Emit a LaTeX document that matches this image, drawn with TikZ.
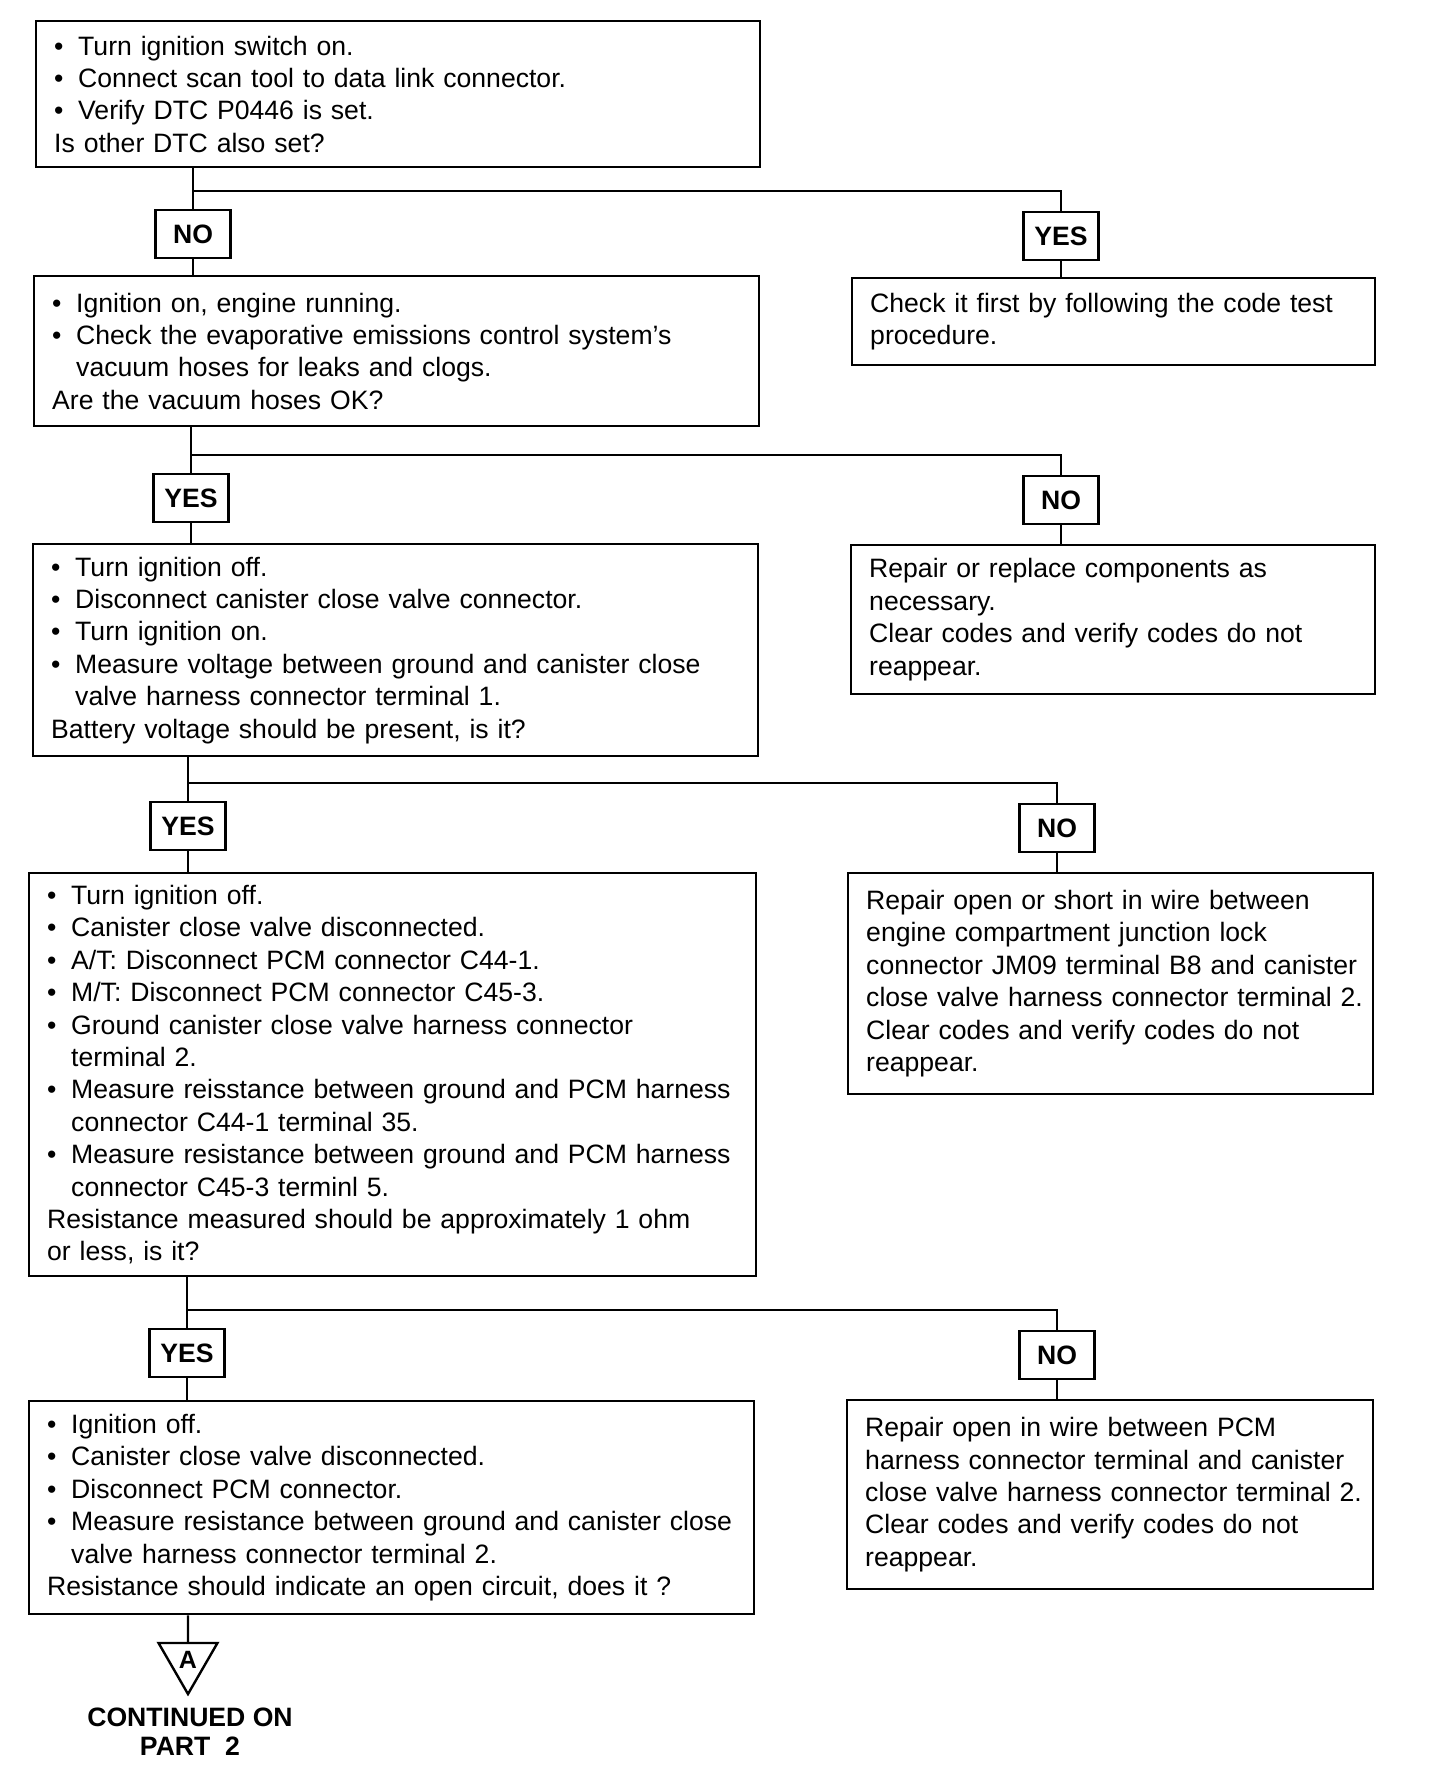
\documentclass[tikz,border=0pt]{standalone}
\usepackage{fontspec}
\setmainfont{Liberation Sans}
\usetikzlibrary{shapes.geometric, positioning}
\newcommand{\bodyfont}{\fontsize{26.6}{32.4}\selectfont}
\newcommand{\itm}{\makebox[24pt][l]{\textbullet}}
\newcommand{\cnt}{\hspace*{24pt}}
\newcommand{\fullline}[1]{\makebox[\linewidth][l]{#1}}
\tikzset{
  stepbox/.style={rectangle, draw=black, line width=2.4pt, anchor=north west, align=left, inner xsep=18pt, inner ysep=3pt, font=\bodyfont},
  answer/.style={rectangle, draw=black, line width=2.4pt, minimum width=75pt, minimum height=48pt, inner sep=0pt, font=\bodyfont\bfseries},
  marker/.style={regular polygon, regular polygon sides=3, shape border rotate=180, draw=black, line width=2.4pt, minimum size=68pt, inner sep=0pt, font=\fontsize{25}{26}\selectfont\bfseries},
  line/.style={line width=2.4pt}
}
\begin{document}
\begin{tikzpicture}[x=1pt, y=-1pt]
  \useasboundingbox (0,0) rectangle (1440,1774);

  % questions (left column)
  \node (q1) [stepbox, text width=688pt, minimum height=146pt] at (35,20) {\itm Turn ignition switch on.\\ \itm Connect scan tool to data link connector.\\ \itm Verify DTC P0446 is set.\\ Is other DTC also set?};
  \node (q2) [stepbox, text width=689pt, minimum height=150pt] at (33,275) {\itm Ignition on, engine running.\\ \itm Check the evaporative emissions control system's\\ \cnt vacuum hoses for leaks and clogs.\\ Are the vacuum hoses OK?};
  \node (q3) [stepbox, text width=689pt, minimum height=212pt] at (32,543) {\itm Turn ignition off.\\ \itm Disconnect canister close valve connector.\\ \itm Turn ignition on.\\ \itm Measure voltage between ground and canister close\\ \cnt valve harness connector terminal 1.\\ Battery voltage should be present, is it?};
  \node (q4) [stepbox, text width=691pt, minimum height=403pt] at (28,872) {\itm Turn ignition off.\\ \itm Canister close valve disconnected.\\ \itm A/T: Disconnect PCM connector C44-1.\\ \itm M/T: Disconnect PCM connector C45-3.\\ \itm Ground canister close valve harness connector\\ \cnt terminal 2.\\ \itm Measure reisstance between ground and PCM harness\\ \cnt connector C44-1 terminal 35.\\ \itm Measure resistance between ground and PCM harness\\ \cnt connector C45-3 terminl 5.\\ Resistance measured should be approximately 1 ohm\\ or less, is it?};
  \node (q5) [stepbox, text width=689pt, minimum height=213pt] at (28,1400) {\itm Ignition off.\\ \itm Canister close valve disconnected.\\ \itm Disconnect PCM connector.\\ \itm Measure resistance between ground and canister close\\ \cnt valve harness connector terminal 2.\\ Resistance should indicate an open circuit, does it ?};

  % repairs (right column)
  \node (r1) [stepbox, text width=487pt, minimum height=87pt] at (851,277) {Check it first by following the code test\\ procedure.};
  \node (r2) [stepbox, text width=488pt, minimum height=149pt] at (850,544) {Repair or replace components as\\ necessary.\\ Clear codes and verify codes do not\\ reappear.};
  \node (r3) [stepbox, text width=489pt, minimum height=221pt] at (847,872) {Repair open or short in wire between\\ engine compartment junction lock\\ \fullline{connector JM09 terminal B8 and canister}\\ \fullline{close valve harness connector terminal 2.}\\ Clear codes and verify codes do not\\ reappear.};
  \node (r4) [stepbox, text width=490pt, minimum height=189pt] at (846,1399) {Repair open in wire between PCM\\ \fullline{harness connector terminal and canister}\\ \fullline{close valve harness connector terminal 2.}\\ Clear codes and verify codes do not\\ reappear.};

  % answers
  \node (no1) [answer] at (193,234) {NO};
  \node (yes1) [answer] at (1061,236) {YES};
  \node (yes2) [answer] at (191,498) {YES};
  \node (no2) [answer] at (1061,500) {NO};
  \node (yes3) [answer] at (188,826) {YES};
  \node (no3) [answer] at (1057,828) {NO};
  \node (yes4) [answer] at (187,1353) {YES};
  \node (no4) [answer] at (1057,1355) {NO};

  \coordinate (j1) at (1061,191);
  \coordinate (j2) at (1061,455);
  \coordinate (j3) at (1057,783);
  \coordinate (j4) at (1057,1310);

  % continuation
  \node (cont) [marker] at (188,1660) {A};
  \node (contlbl) [font=\fontsize{26.6}{29}\selectfont\bfseries, align=center, inner sep=0pt] at (190,1732) {CONTINUED ON\\PART\ \ 2};

  % connectors
  \draw [line] (q1.south -| no1) -- (no1);
  \draw [line] (no1) -- (q2.north -| no1);
  \draw [line] (no1 |- j1) -- (j1) -- (yes1);
  \draw [line] (yes1) -- (r1.north -| yes1);

  \draw [line] (q2.south -| yes2) -- (yes2);
  \draw [line] (yes2) -- (q3.north -| yes2);
  \draw [line] (yes2 |- j2) -- (j2) -- (no2);
  \draw [line] (no2) -- (r2.north -| no2);

  \draw [line] (q3.south -| yes3) -- (yes3);
  \draw [line] (yes3) -- (q4.north -| yes3);
  \draw [line] (yes3 |- j3) -- (j3) -- (no3);
  \draw [line] (no3) -- (r3.north -| no3);

  \draw [line] (q4.south -| yes4) -- (yes4);
  \draw [line] (yes4) -- (q5.north -| yes4);
  \draw [line] (yes4 |- j4) -- (j4) -- (no4);
  \draw [line] (no4) -- (r4.north -| no4);

  \draw [line] (q5.south -| cont) -- (cont);

\end{tikzpicture}
\end{document}
